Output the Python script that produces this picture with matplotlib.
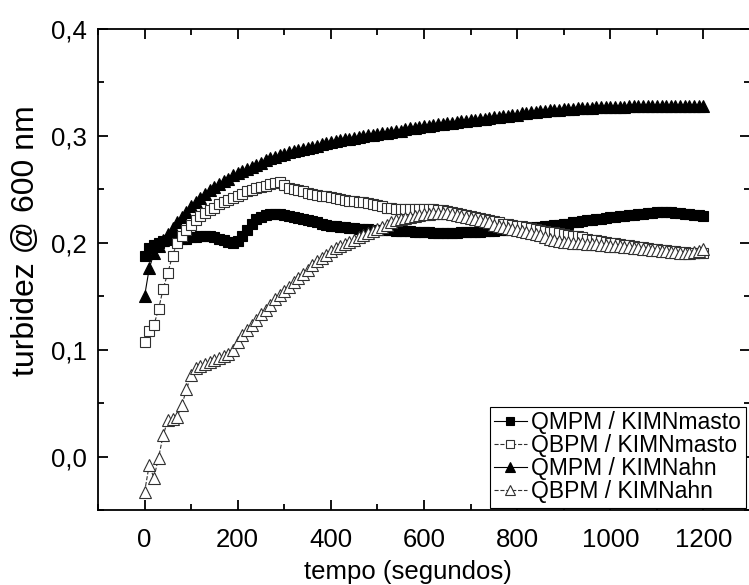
import numpy as np
import matplotlib
matplotlib.use("Agg")
import matplotlib.pyplot as plt
from matplotlib.ticker import MultipleLocator, FuncFormatter

plt.rcParams['font.family'] = ['Liberation Sans', 'DejaVu Sans']

# sampling times (s)
tempo = np.arange(0, 1210, 10)

# QMPM / KIMNmasto (filled squares)
qmpm_masto = [
    0.188, 0.195, 0.198, 0.200, 0.202, 0.203, 0.204, 0.204, 0.204, 0.204,
    0.205, 0.205, 0.206, 0.206, 0.206, 0.205, 0.204, 0.203, 0.201, 0.200,
    0.202, 0.206, 0.212, 0.218, 0.222, 0.224, 0.226, 0.227, 0.227, 0.227,
    0.226, 0.225, 0.224, 0.223, 0.222, 0.221, 0.220, 0.219, 0.218, 0.217,
    0.216, 0.216, 0.215, 0.215, 0.214, 0.214, 0.213, 0.213, 0.213, 0.212,
    0.212, 0.212, 0.212, 0.212, 0.211, 0.211, 0.211, 0.211, 0.210, 0.210,
    0.210, 0.210, 0.209, 0.209, 0.209, 0.209, 0.209, 0.209, 0.210, 0.210,
    0.210, 0.210, 0.210, 0.211, 0.211, 0.211, 0.212, 0.212, 0.212, 0.213,
    0.213, 0.213, 0.214, 0.214, 0.215, 0.215, 0.216, 0.216, 0.217, 0.217,
    0.218, 0.218, 0.219, 0.219, 0.220, 0.221, 0.221, 0.222, 0.222, 0.223,
    0.224, 0.224, 0.225, 0.225, 0.226, 0.226, 0.227, 0.227, 0.228, 0.228,
    0.229, 0.229, 0.229, 0.229, 0.228, 0.228, 0.227, 0.227, 0.226, 0.226,
    0.225,
]

# QBPM / KIMNmasto (open squares)
qbpm_masto = [
    0.107, 0.117, 0.123, 0.138, 0.157, 0.172, 0.188, 0.200, 0.206, 0.212,
    0.217, 0.221, 0.225, 0.228, 0.231, 0.233, 0.236, 0.238, 0.240, 0.242,
    0.244, 0.246, 0.248, 0.249, 0.251, 0.252, 0.253, 0.255, 0.256, 0.257,
    0.254, 0.251, 0.250, 0.249, 0.248, 0.247, 0.246, 0.245, 0.244, 0.244,
    0.243, 0.242, 0.241, 0.240, 0.239, 0.239, 0.238, 0.238, 0.237, 0.236,
    0.235, 0.234, 0.233, 0.233, 0.232, 0.232, 0.232, 0.232, 0.232, 0.232,
    0.232, 0.232, 0.232, 0.231, 0.231, 0.230, 0.229, 0.228, 0.227, 0.226,
    0.225, 0.224, 0.223, 0.222, 0.221, 0.220, 0.219, 0.218, 0.218, 0.217,
    0.216, 0.216, 0.215, 0.214, 0.213, 0.212, 0.211, 0.210, 0.210, 0.209,
    0.208, 0.207, 0.206, 0.206, 0.205, 0.204, 0.203, 0.203, 0.202, 0.201,
    0.200, 0.200, 0.199, 0.198, 0.198, 0.197, 0.196, 0.196, 0.195, 0.194,
    0.194, 0.193, 0.193, 0.192, 0.192, 0.191, 0.191, 0.190, 0.190, 0.190,
    0.190,
]

# QMPM / KIMNahn (filled triangles)
qmpm_ahn = [
    0.150, 0.176, 0.190, 0.197, 0.203, 0.208, 0.214, 0.219, 0.224, 0.229,
    0.234, 0.238, 0.242, 0.246, 0.249, 0.252, 0.255, 0.258, 0.260, 0.263,
    0.265, 0.267, 0.269, 0.271, 0.273, 0.275, 0.277, 0.279, 0.280, 0.282,
    0.283, 0.285, 0.286, 0.287, 0.288, 0.289, 0.290, 0.291, 0.292, 0.293,
    0.294, 0.295, 0.296, 0.297, 0.297, 0.298, 0.299, 0.300, 0.301, 0.301,
    0.302, 0.303, 0.303, 0.304, 0.305, 0.305, 0.306, 0.307, 0.307, 0.308,
    0.309, 0.309, 0.310, 0.311, 0.311, 0.312, 0.312, 0.313, 0.314, 0.314,
    0.315, 0.315, 0.316, 0.316, 0.317, 0.318, 0.318, 0.319, 0.319, 0.320,
    0.320, 0.321, 0.321, 0.322, 0.322, 0.323, 0.323, 0.324, 0.324, 0.324,
    0.325, 0.325, 0.325, 0.326, 0.326, 0.326, 0.326, 0.327, 0.327, 0.327,
    0.327, 0.327, 0.327, 0.327, 0.328, 0.328, 0.328, 0.328, 0.328, 0.328,
    0.328, 0.328, 0.328, 0.328, 0.328, 0.328, 0.328, 0.328, 0.328, 0.328,
    0.328,
]

# QBPM / KIMNahn (open triangles)
qbpm_ahn = [
    -0.033, -0.008, -0.020, -0.001, 0.020, 0.034, 0.035, 0.037, 0.048, 0.063,
    0.076, 0.083, 0.085, 0.087, 0.088, 0.090, 0.092, 0.094, 0.096, 0.100,
    0.107, 0.114, 0.118, 0.123, 0.128, 0.133, 0.137, 0.142, 0.147, 0.151,
    0.155, 0.159, 0.163, 0.167, 0.171, 0.175, 0.179, 0.183, 0.186, 0.189,
    0.192, 0.195, 0.197, 0.199, 0.201, 0.203, 0.205, 0.207, 0.209, 0.211,
    0.213, 0.215, 0.217, 0.219, 0.221, 0.222, 0.223, 0.224, 0.225, 0.226,
    0.227, 0.227, 0.228, 0.228, 0.228, 0.228, 0.227, 0.226, 0.225, 0.224,
    0.223, 0.222, 0.221, 0.220, 0.219, 0.217, 0.216, 0.215, 0.214, 0.213,
    0.212, 0.211, 0.210, 0.209, 0.208, 0.207, 0.205, 0.204, 0.203, 0.202,
    0.201, 0.201, 0.200, 0.200, 0.200, 0.199, 0.199, 0.199, 0.198, 0.198,
    0.197, 0.197, 0.197, 0.196, 0.196, 0.195, 0.195, 0.194, 0.194, 0.193,
    0.193, 0.192, 0.192, 0.191, 0.191, 0.190, 0.190, 0.190, 0.191, 0.192,
    0.194,
]

labels = ["QMPM / KIMNmasto", "QBPM / KIMNmasto", "QMPM / KIMNahn", "QBPM / KIMNahn"]

fig = plt.figure(figsize=(7.49, 5.85), dpi=100)
ax = fig.add_axes([98 / 749, 1 - 510 / 585, 652 / 749, 481 / 585])

edge_open = "#303030"
h1, = ax.plot(tempo, qmpm_masto, ls="-", lw=0.8, color="black", marker="s",
              ms=6.5, mfc="black", mec="black", mew=0.8, zorder=2, label=labels[0])
h3, = ax.plot(tempo, qmpm_ahn, ls="-", lw=0.8, color="black", marker="^",
              ms=8, mfc="black", mec="black", mew=0.8, zorder=3, label=labels[2])
h2, = ax.plot(tempo, qbpm_masto, ls="--", lw=0.8, color=edge_open, marker="s",
              ms=6.5, mfc="white", mec=edge_open, mew=0.8, zorder=4, label=labels[1])
h4, = ax.plot(tempo, qbpm_ahn, ls="--", lw=0.8, color=edge_open, marker="^",
              ms=8, mfc="white", mec=edge_open, mew=0.8, zorder=5, label=labels[3])

ax.set_xlim(-100, 1300)
ax.set_ylim(-0.05, 0.4)
ax.xaxis.set_major_locator(MultipleLocator(200))
ax.xaxis.set_minor_locator(MultipleLocator(100))
ax.yaxis.set_major_locator(MultipleLocator(0.1))
ax.yaxis.set_minor_locator(MultipleLocator(0.05))
ax.yaxis.set_major_formatter(FuncFormatter(lambda v, p: f"{v:.1f}".replace(".", ",").replace("-0,0", "0,0")))

for s in ax.spines.values():
    s.set_linewidth(1.3)
ax.tick_params(which="both", direction="in", top=True, right=True, width=1.3)
ax.tick_params(which="major", length=7, labelsize=18.5)
ax.tick_params(axis="x", which="major", pad=13)
ax.tick_params(axis="y", which="major", pad=8)
ax.tick_params(which="minor", length=4)

ax.set_xlabel("tempo (segundos)", fontsize=18.5)
ax.xaxis.set_label_coords(0.475, -0.103)
ax.set_ylabel("turbidez @ 600 nm", fontsize=23)
ax.yaxis.set_label_coords(-0.088, 0.56)

leg = ax.legend(handles=[h1, h2, h3, h4], loc="lower left",
                bbox_to_anchor=(0.601, 0.004), fontsize=16.5, frameon=True,
                fancybox=False, framealpha=1, edgecolor="black",
                handlelength=1.4, handletextpad=0.2, labelspacing=0.0,
                borderpad=0.2, borderaxespad=0, markerscale=0.9)
leg.get_frame().set_linewidth(0.8)

fig.savefig("out.png", dpi=100)
